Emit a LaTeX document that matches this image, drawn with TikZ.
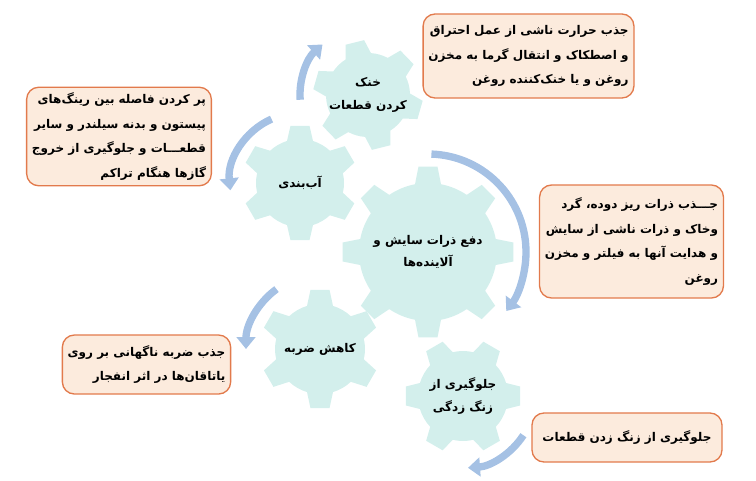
\documentclass[tikz,border=0pt]{standalone}
\usepackage{fontspec}
\newfontfamily\fa[Script=Arabic]{DejaVu Sans}
\TeXXeTstate=1
\usetikzlibrary{arrows.meta}

\definecolor{gearfill}{HTML}{D3EFEC}
\definecolor{flowblue}{HTML}{A5C1E4}
\definecolor{boxfill}{HTML}{FCEBDD}
\definecolor{boxline}{HTML}{E27A4C}

\tikzset{
  gearbody/.style={fill=gearfill},
  flow/.style={draw=flowblue, line width=5.5pt, -{Triangle[width=14pt,length=9pt]}},
  infobox/.style={draw=boxline, line width=1pt, fill=boxfill, rounded corners=9pt, inner sep=4pt,
    font=\fa\bfseries\fontsize{9}{18.5}\selectfont, align=right},
  geartext/.style={font=\fa\bfseries\fontsize{9}{17}\selectfont, align=center},
}

% gear: center, teeth, inner radius, outer radius, rotation
\newcommand{\gear}[5]{%
  \pgfmathsetmacro\gstep{360/#2}
  \pgfmathsetmacro\gbase{asin(13/#3)}
  \pgfmathsetmacro\gtip{asin(9.5/#4)}
  \pgfmathtruncatemacro\glast{#2-1}
  \fill[gearbody, shift={#1}, rotate=#5] (-\gbase:#3)
    \foreach \k in {0,...,\glast}{
      -- ({\k*\gstep-\gtip}:#4) -- ({\k*\gstep+\gtip}:#4) -- ({\k*\gstep+\gbase}:#3)
      arc[start angle={\k*\gstep+\gbase}, end angle={(\k+1)*\gstep-\gbase}, radius=#3]
    } -- cycle;
}

\begin{document}
\begin{tikzpicture}[x=0.75pt, y=0.75pt]
\useasboundingbox (0,0) rectangle (756,480);

\coordinate (cool) at (368,385);
\coordinate (seal) at (300,297);
\coordinate (clean) at (428,228);
\coordinate (shock) at (320,131);
\coordinate (rust) at (463,84);

% gears
\gear{(cool)}{6}{42}{55}{104}
\gear{(seal)}{6}{44}{58}{90}
\gear{(clean)}{8}{69}{86}{90}
\gear{(shock)}{6}{45}{60}{90}
\gear{(rust)}{6}{45}{58}{0}

% arrows round the gears
\draw[flow] ([shift={(184:68)}]cool) arc[start angle=184, end angle=132, radius=68];
\draw[flow] ([shift={(114:70)}]seal) arc[start angle=114, end angle=186, radius=70];
\draw[flow] ([shift={(88:98)}]clean) arc[start angle=88, end angle=-37, radius=98];
\draw[flow] ([shift={(126:74)}]shock) arc[start angle=126, end angle=180, radius=74];
\draw[flow] ([shift={(-33:72)}]rust) arc[start angle=-33, end angle=-86, radius=72];

% gear labels
\node[geartext] (coollbl) at (cool) {\beginR خنک\endR\\\beginR کردن قطعات\endR};
\node[geartext] (seallbl) at (seal) {\beginR آب‌بندی\endR};
\node[geartext] (cleanlbl) at (clean) {\beginR دفع ذرات سایش و\endR\\\beginR آلاینده‌ها\endR};
\node[geartext] (shocklbl) at (shock) {\beginR کاهش ضربه\endR};
\node[geartext] (rustlbl) at (rust) {\beginR جلوگیری از\endR\\\beginR زنگ زدگی\endR};

% boxes
\node[infobox, minimum width=153.75pt, minimum height=63pt] (coolbox) at (528.5,424)
  {\beginR جذب حرارت ناشی از عمل احتراق\endR\\\beginR و اصطکاک و انتقال گرما به مخزن\endR\\\beginR روغن و یا خنک‌کننده روغن\endR};
\node[infobox, minimum width=136.5pt, minimum height=69.75pt] (sealbox) at (119,343.5)
  {\beginR پر کردن فاصله بین رینگ‌های\endR\\\beginR پیستون و بدنه سیلندر و سایر\endR\\\beginR قطعـــات و جلوگیری از خروج\endR\\\beginR گازها هنگام تراکم\endR};
\node[infobox, minimum width=129.75pt, minimum height=84.75pt] (cleanbox) at (631.5,238.5)
  {\beginR جـــذب ذرات ریز دوده، گرد\endR\\\beginR وخاک و ذرات ناشی از سایش\endR\\\beginR و هدایت آنها به فیلتر و مخزن\endR\\\beginR روغن\endR};
\node[infobox, minimum width=122.25pt, minimum height=44.25pt] (shockbox) at (146.5,115.5)
  {\beginR جذب ضربه ناگهانی بر روی\endR\\\beginR یاتاقان‌ها در اثر انفجار\endR};
\node[infobox, minimum width=142.5pt, minimum height=36.75pt] (rustbox) at (627,42.5)
  {\beginR جلوگیری از زنگ زدن قطعات\endR};

\end{tikzpicture}
\end{document}
